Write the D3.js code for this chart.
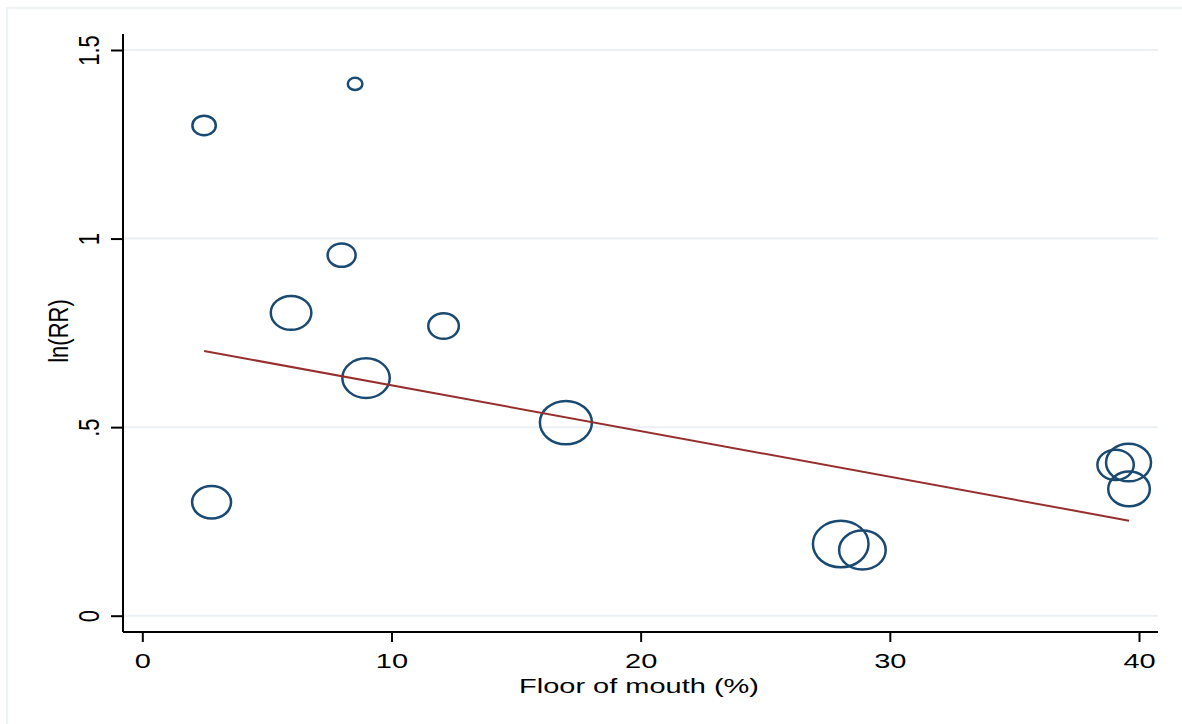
<!DOCTYPE html>
<html><head><meta charset="utf-8">
<script src="https://cdn.jsdelivr.net/npm/d3@7"></script>
<style>body{margin:0;background:#fff}svg{display:block}text{font-family:"Liberation Sans",Arial,sans-serif;fill:#000}</style>
</head><body><svg id="c" width="1182" height="724"></svg>
<script>
const floorPct = [2.48, 8.54, 8.0, 5.97, 12.09, 8.98, 17.0, 2.78, 28.03, 28.9, 39.06, 39.58, 39.6];
const lnRR     = [1.30, 1.41, 0.956, 0.803, 0.768, 0.630, 0.512, 0.301, 0.190, 0.174, 0.400, 0.406, 0.336];
const weights  = [137, 53, 196, 412, 234, 562, 676, 380, 773, 543, 331, 506, 433];
const xTicks = [0, 10, 20, 30, 40];
const yTicks = [0, 0.5, 1, 1.5];
const yTickLabels = ["0", ".5", "1", "1.5"];
const fitIntercept = 0.732, fitSlope = -0.01212;

const svg = d3.select("#c");
svg.append("rect").attr("x",7).attr("y",8).attr("width",1180).attr("height",720)
  .attr("fill","none").attr("stroke","#e8eef2").attr("stroke-width",1.5);

const x = d3.scaleLinear().domain([0,40]).range([142.3,1139]);
const y = d3.scaleLinear().domain([0,1.5]).range([615.7,50]);
const r = d3.scaleSqrt().domain([0, d3.max(weights)]).range([0, 27.8]);
const left = 123, right = 1158, bottom = 632;

// gridlines
svg.append("g").selectAll("line").data(yTicks).join("line")
  .attr("x1",left).attr("x2",right).attr("y1",d=>y(d)).attr("y2",d=>y(d))
  .attr("stroke","#eaf0f3").attr("stroke-width",2);

// y axis
const ya = svg.append("g").attr("transform",`translate(${left},0)`)
  .call(d3.axisLeft(y).tickValues(yTicks).tickSize(12).tickFormat((d,i)=>yTickLabels[i]));
ya.select(".domain").attr("d",`M0,34V${bottom}`).attr("stroke","#000").attr("stroke-width",2);
ya.selectAll(".tick line").attr("stroke","#000").attr("stroke-width",2);
ya.selectAll(".tick text").attr("transform","translate(-24,0) scale(1.3,1) rotate(-90)")
  .attr("x",0).attr("y",0).attr("dy",0).attr("text-anchor","middle").style("font-size","22px");

// x axis
const xa = svg.append("g").attr("transform",`translate(0,${bottom})`)
  .call(d3.axisBottom(x).tickValues(xTicks).tickSize(10).tickFormat(d3.format("d")));
xa.select(".domain").attr("d",`M${left},0H${right}`).attr("stroke","#000").attr("stroke-width",2);
xa.selectAll(".tick line").attr("stroke","#000").attr("stroke-width",2);
xa.selectAll(".tick text").attr("y",0).attr("dy",0).attr("transform","translate(0,36) scale(1.38,1)")
  .style("font-size","21px");
svg.selectAll(".tick text").attr("font-family",null).attr("font-size",null);

// titles
svg.append("text").attr("transform","translate(639,693) scale(1.38,1)").attr("text-anchor","middle")
  .style("font-size","21px").text("Floor of mouth (%)");
svg.append("text").attr("transform","translate(68,331) scale(1.25,1) rotate(-90)").attr("text-anchor","middle")
  .style("font-size","22px").text("ln(RR)");

// bubbles
const data = floorPct.map((v,i)=>({x:v,y:lnRR[i],w:weights[i]}));
svg.append("g").selectAll("ellipse").data(data).join("ellipse")
  .attr("cx",d=>x(d.x)).attr("cy",d=>y(d.y))
  .attr("rx",d=>r(d.w)).attr("ry",d=>r(d.w)*0.835)
  .attr("fill","none").attr("stroke","#1a4a72").attr("stroke-width",2.5);

// fit line
const xmin = d3.min(floorPct), xmax = d3.max(floorPct);
svg.append("line").attr("x1",x(xmin)).attr("y1",y(fitIntercept+fitSlope*xmin))
  .attr("x2",x(xmax)).attr("y2",y(fitIntercept+fitSlope*xmax))
  .attr("stroke","#962e2e").attr("stroke-width",2);
</script></body></html>
